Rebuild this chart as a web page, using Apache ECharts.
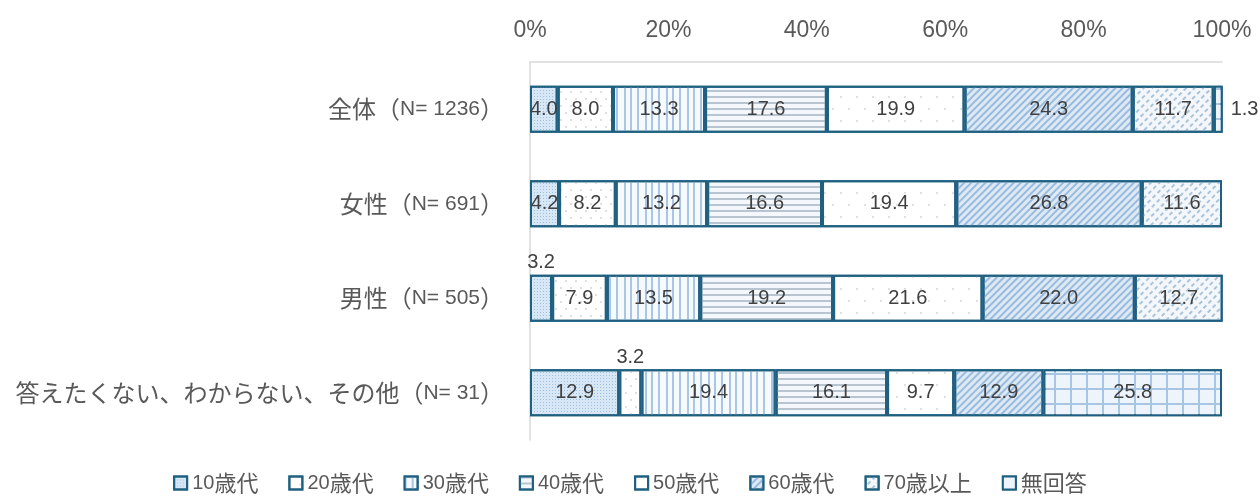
<!DOCTYPE html>
<html>
<head>
<meta charset="utf-8">
<script src="https://cdn.jsdelivr.net/npm/echarts@6/dist/echarts.min.js"></script>
<style>
html,body{margin:0;padding:0;background:#fff;}
#chart{width:1260px;height:502px;}
</style>
</head>
<body>
<div id="chart"></div>
<script>
const categories = ['全体（N= 1236）', '女性（N= 691）', '男性（N= 505）', '答えたくない、わからない、その他（N= 31）'];
const seriesNames = ['10歳代', '20歳代', '30歳代', '40歳代', '50歳代', '60歳代', '70歳以上', '無回答'];
const v10 = [4.0, 4.2, 3.2, 12.9];
const v20 = [8.0, 8.2, 7.9, 3.2];
const v30 = [13.3, 13.2, 13.5, 19.4];
const v40 = [17.6, 16.6, 19.2, 16.1];
const v50 = [19.9, 19.4, 21.6, 9.7];
const v60 = [24.3, 26.8, 22.0, 12.9];
const v70 = [11.7, 11.6, 12.7, 0];
const vNA = [1.3, 0, 0, 25.8];
const xTicks = [0, 20, 40, 60, 80, 100];

const allValues = [v10, v20, v30, v40, v50, v60, v70, vNA];

const LATIN = "'Liberation Sans', Arial, sans-serif";
const CJK = "'Noto Sans CJK JP', sans-serif";
const FONT = "'Liberation Sans', Arial, 'Noto Sans CJK JP', sans-serif";
const BORDER = '#1f5f80';
const TEXT = '#595959';

const styles = [
  { color: '#d8e7f5', decal: { symbol: 'rect', symbolSize: 1, dashArrayX: [1, 2], dashArrayY: [1, 2], color: '#9dbfe0' } },
  { color: '#ffffff', decal: { symbol: 'circle', symbolSize: 0.9, dashArrayX: [[2, 8], [0, 5, 2, 3]], dashArrayY: [2, 5], color: '#cfcfcf' } },
  { color: '#f7fafd', decal: { symbol: 'rect', symbolSize: 1, dashArrayX: [[2, 5, 2, 6, 1.5, 4]], dashArrayY: [10, 0], color: '#a9c6e5' } },
  { color: '#f4f8fc', decal: { symbol: 'rect', symbolSize: 1, dashArrayX: [10, 0], dashArrayY: [1.6, 3.4], color: '#b8c4d0' } },
  { color: '#ffffff', decal: { symbol: 'circle', symbolSize: 0.9, dashArrayX: [[2, 14], [0, 8, 2, 6]], dashArrayY: [2, 10], color: '#d3d3d3' } },
  { color: '#dde9f5', decal: { symbol: 'rect', symbolSize: 1, dashArrayX: [1.5, 2.6], dashArrayY: [10, 0], rotation: Math.PI / 4, color: '#9abbdd' } },
  { color: '#f3f7fb', decal: { symbol: 'rect', symbolSize: 1, dashArrayX: [1.4, 4], dashArrayY: [4, 2.5], rotation: Math.PI / 4, color: '#adc3d8' } },
  { color: '#a8c6e4', decal: { symbol: 'rect', symbolSize: 1, dashArrayX: [14, 1.6], dashArrayY: [13, 1.6], color: '#edf4fb' } }
];

function labelFor(v) {
  if (v < 2) return { position: 'right', distance: 8 };
  if (v < 3.5) return { position: 'top', distance: 2 };
  return { position: 'inside' };
}

// split text into latin / CJK runs for rich styling
function richRuns(text, latinKey, cjkKey) {
  const runs = text.match(/[\x20-\x7E]+|[^\x20-\x7E]+/g) || [];
  return runs.map(r => '{' + (/^[\x20-\x7E]/.test(r) ? latinKey : cjkKey) + '|' + r + '}').join('');
}

const series = seriesNames.map((name, i) => ({
  name: name,
  type: 'bar',
  stack: 'total',
  barWidth: 47,
  itemStyle: {
    color: styles[i].color,
    borderColor: BORDER,
    borderWidth: 2,
    decal: styles[i].decal
  },
  label: {
    show: true,
    fontFamily: LATIN,
    fontSize: 20,
    color: '#404040',
    formatter: p => (p.value ? Number(p.value).toFixed(1) : '')
  },
  emphasis: { disabled: true },
  data: allValues[i].map(v => (v ? { value: v, label: labelFor(v) } : null))
}));

const chart = echarts.init(document.getElementById('chart'), null, { renderer: 'canvas' });
chart.setOption({
  animation: false,
  backgroundColor: '#ffffff',
  textStyle: { fontFamily: FONT },
  grid: { left: 530, right: 38, top: 62, bottom: 62, containLabel: false },
  xAxis: {
    type: 'value',
    position: 'top',
    min: xTicks[0],
    max: xTicks[xTicks.length - 1],
    interval: xTicks[1] - xTicks[0],
    axisLine: { show: true, lineStyle: { color: '#d9d9d9', width: 1.5 } },
    axisTick: { show: false },
    splitLine: { show: false },
    axisLabel: { margin: 20, fontSize: 23, color: TEXT, fontFamily: LATIN, formatter: '{value}%' }
  },
  yAxis: {
    type: 'category',
    inverse: true,
    data: categories,
    axisLine: { show: true, lineStyle: { color: '#d9d9d9', width: 1.5 } },
    axisTick: { show: false },
    axisLabel: {
      margin: 26,
      color: TEXT,
      formatter: v => richRuns(v, 'l', 'c'),
      rich: {
        l: { fontSize: 21, fontFamily: LATIN, color: TEXT },
        c: { fontSize: 24, fontFamily: CJK, color: TEXT }
      }
    }
  },
  legend: {
    bottom: 3,
    left: 'center',
    itemWidth: 13,
    itemHeight: 13,
    itemGap: 30,
    icon: 'rect',
    formatter: n => richRuns(n, 'l', 'c'),
    textStyle: {
      color: TEXT,
      rich: {
        l: { fontSize: 20, fontFamily: LATIN, color: TEXT },
        c: { fontSize: 22, fontFamily: CJK, color: TEXT }
      }
    },
    data: seriesNames
  },
  series: series
});
</script>
</body>
</html>
